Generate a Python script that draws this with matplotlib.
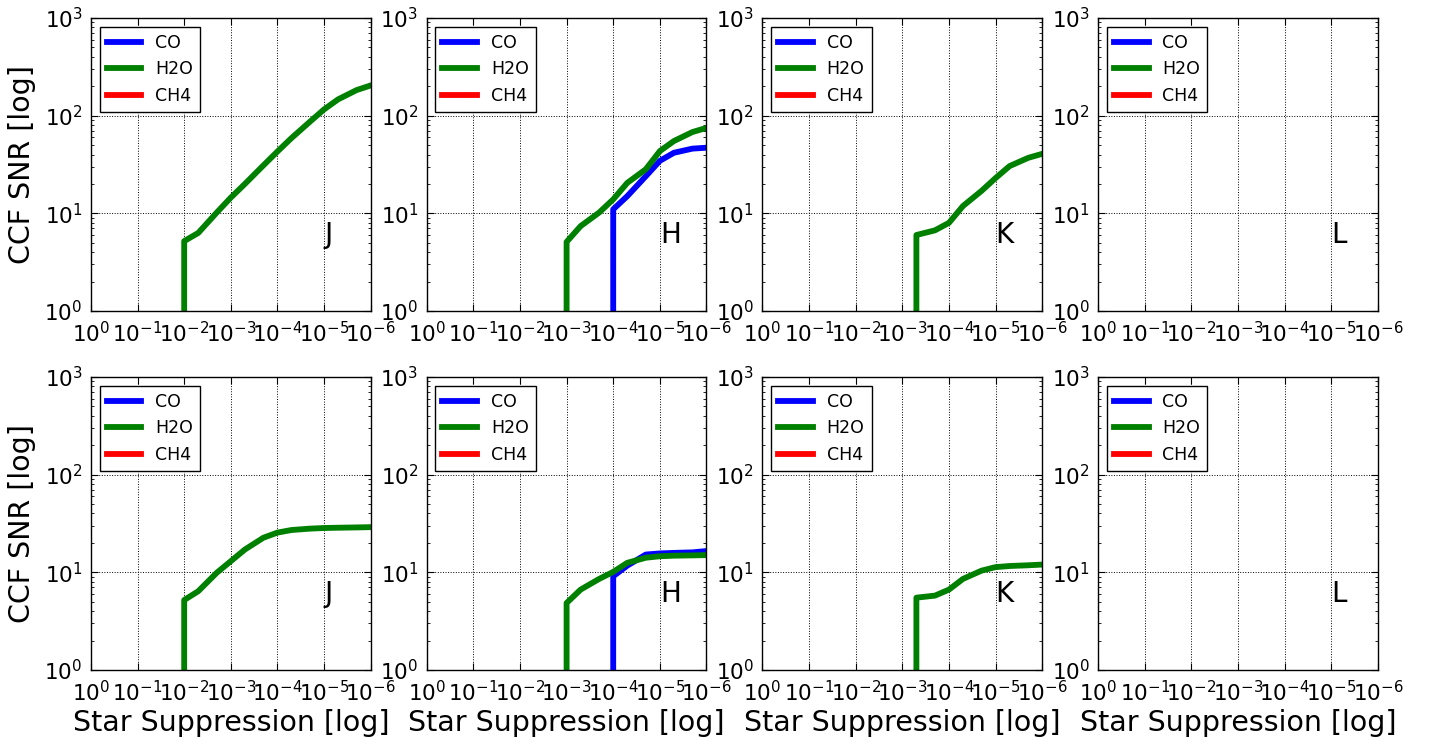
import matplotlib
matplotlib.use("Agg")
import matplotlib.pyplot as plt

# Star suppression grid (x values)
supp = [1, 5e-1, 2e-1, 1e-1, 5e-2, 2e-2, 1e-2, 5e-3, 2e-3, 1e-3,
        5e-4, 2e-4, 1e-4, 5e-5, 2e-5, 1e-5, 5e-6, 2e-6, 1e-6]

bands = ["J", "H", "K", "L"]
molecules = ["CO", "H2O", "CH4"]
colors = ["blue", "green", "red"]

# ---- top row: CCF SNR per band / molecule (0 = no detection) ----
top_J_co = [0] * 19
top_J_h2o = [0, 0, 0, 0, 0, 0, 5.2, 6.3, 10.2, 14.5, 20, 31, 43, 59, 87, 116, 147, 183, 204]
top_J_ch4 = [0] * 19

top_H_co = [0, 0, 0, 0, 0, 0, 0, 0, 0, 0, 0, 0, 11, 15, 24, 34.5, 41.7, 46, 47]
top_H_h2o = [0, 0, 0, 0, 0, 0, 0, 0, 0, 5.1, 7.4, 10.2, 13.9, 20.5, 28.3, 43.4, 55, 68, 75]
top_H_ch4 = [0] * 19

top_K_co = [0] * 19
top_K_h2o = [0, 0, 0, 0, 0, 0, 0, 0, 0, 0, 6.0, 6.7, 8.0, 11.9, 17, 23, 30.5, 37, 40.7]
top_K_ch4 = [0] * 19

top_L_co = [0] * 19
top_L_h2o = [0] * 19
top_L_ch4 = [0] * 19

# ---- bottom row ----
bot_J_co = [0] * 19
bot_J_h2o = [0, 0, 0, 0, 0, 0, 5.2, 6.4, 9.9, 13, 17.1, 22.6, 25.5, 27.1, 28, 28.4, 28.6, 28.8, 29]
bot_J_ch4 = [0] * 19

bot_H_co = [0, 0, 0, 0, 0, 0, 0, 0, 0, 0, 0, 0, 9.1, 11.7, 15.2, 15.6, 15.8, 16.0, 16.5]
bot_H_h2o = [0, 0, 0, 0, 0, 0, 0, 0, 0, 4.85, 6.65, 8.56, 10.1, 12.5, 14.1, 14.6, 14.8, 14.9, 15.0]
bot_H_ch4 = [0] * 19

bot_K_co = [0] * 19
bot_K_h2o = [0, 0, 0, 0, 0, 0, 0, 0, 0, 0, 5.5, 5.77, 6.65, 8.56, 10.4, 11.3, 11.6, 11.8, 12.0]
bot_K_ch4 = [0] * 19

bot_L_co = [0] * 19
bot_L_h2o = [0] * 19
bot_L_ch4 = [0] * 19

rows = [
    [(top_J_co, top_J_h2o, top_J_ch4), (top_H_co, top_H_h2o, top_H_ch4),
     (top_K_co, top_K_h2o, top_K_ch4), (top_L_co, top_L_h2o, top_L_ch4)],
    [(bot_J_co, bot_J_h2o, bot_J_ch4), (bot_H_co, bot_H_h2o, bot_H_ch4),
     (bot_K_co, bot_K_h2o, bot_K_ch4), (bot_L_co, bot_L_h2o, bot_L_ch4)],
]

plt.rcParams.update({
    "font.family": ["DejaVu Sans"],
    "xtick.direction": "in", "ytick.direction": "in",
    "xtick.top": True, "ytick.right": True,
    "xtick.minor.visible": True, "ytick.minor.visible": True,
    "xtick.major.size": 5, "ytick.major.size": 5,
    "xtick.minor.size": 2.5, "ytick.minor.size": 2.5,
    "xtick.major.width": 0.8, "ytick.major.width": 0.8,
    "axes.linewidth": 1.0,
    "grid.color": "k", "grid.linestyle": ":", "grid.linewidth": 0.7,
    "legend.fancybox": False, "legend.edgecolor": "k", "legend.framealpha": 1,
    "mathtext.default": "regular",
})

fig, axes = plt.subplots(2, 4, figsize=(14.32, 7.44), dpi=100)
fig.subplots_adjust(left=0.0635, right=0.9623, top=0.9758, bottom=0.0995,
                    wspace=0.2, hspace=0.225)

for r in range(2):
    for c in range(4):
        ax = axes[r, c]
        for series, name, col in zip(rows[r][c], molecules, colors):
            ax.plot(supp, series, color=col, lw=4.2, label=name)
        ax.set_xscale("log")
        ax.set_yscale("log", nonpositive="clip")
        ax.set_xlim(1, 1e-6)
        ax.set_ylim(1, 1e3)
        ax.set_xticks([1, 1e-1, 1e-2, 1e-3, 1e-4, 1e-5, 1e-6])
        ax.set_yticks([1, 1e1, 1e2, 1e3])
        ax.grid(True, which="major")
        ax.tick_params(axis="both", which="major", labelsize=15.5)
        ax.tick_params(axis="x", which="major", pad=7)
        ax.tick_params(axis="y", which="major", pad=6)
        ax.text(1e-5, 5, bands[c], fontsize=20)
        leg = ax.legend(loc="upper left", fontsize=12.5, handlelength=2.0,
                        borderaxespad=0.5)
        leg.get_frame().set_linewidth(1.0)
        if c == 0:
            ax.set_ylabel("CCF SNR [log]", fontsize=20.5, labelpad=6)
        if r == 1:
            ax.set_xlabel("Star Suppression [log]", fontsize=20.5, labelpad=3)

fig.savefig("out.png", dpi=100, facecolor="white")
